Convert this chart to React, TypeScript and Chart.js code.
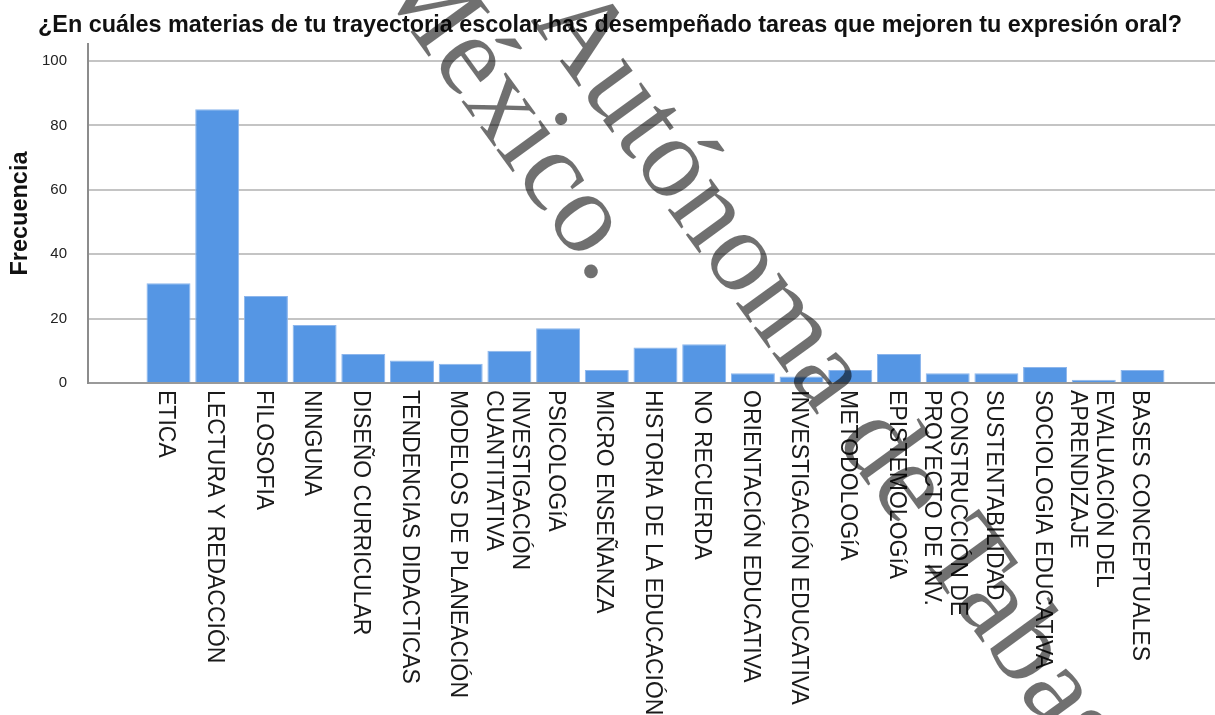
import React, { useEffect, useRef } from "react";
import { Chart, registerables } from "chart.js";

Chart.register(...registerables);

const chartTitle =
  "¿En cuáles materias de tu trayectoria escolar has desempeñado tareas que mejoren tu expresión oral?";
const yAxisTitle = "Frecuencia";

const categories = [
  "ETICA",
  "LECTURA Y REDACCIÓN",
  "FILOSOFIA",
  "NINGUNA",
  "DISEÑO CURRICULAR",
  "TENDENCIAS DIDACTICAS",
  "MODELOS DE PLANEACIÓN",
  "INVESTIGACIÓN\nCUANTITATIVA",
  "PSICOLOGíA",
  "MICRO ENSEÑANZA",
  "HISTORIA DE LA EDUCACIÓN",
  "NO RECUERDA",
  "ORIENTACIÓN EDUCATIVA",
  "INVESTIGACIÓN EDUCATIVA",
  "METODOLOGíA",
  "EPISTEMOLOGíA",
  "CONSTRUCCIÓN DE\nPROYECTO DE INV.",
  "SUSTENTABILIDAD",
  "SOCIOLOGIA EDUCATIVA",
  "EVALUACIÓN DEL\nAPRENDIZAJE",
  "BASES CONCEPTUALES",
];

const frequencies = [31, 85, 27, 18, 9, 7, 6, 10, 17, 4, 11, 12, 3, 2, 4, 9, 3, 3, 5, 1, 4];

const yTicks = [0, 20, 40, 60, 80, 100];

const watermarkLines = [
  { text: "Autónoma de Tabasco.", x: 530, y: 20 },
  { text: "México.", x: 370, y: -24 },
];

const W = 1215;
const H = 715;

const overlayPlugin = {
  id: "overlay",
  afterDraw(chart: any) {
    const ctx = chart.ctx as CanvasRenderingContext2D;
    const xs = chart.scales.x;
    const area = chart.chartArea;

    // title
    ctx.save();
    ctx.fillStyle = "#111";
    ctx.font = 'bold 23.4px "Liberation Sans", Arial, sans-serif';
    ctx.textAlign = "center";
    ctx.textBaseline = "alphabetic";
    ctx.fillText(chartTitle, 610, 32);
    ctx.restore();

    // y title
    ctx.save();
    ctx.fillStyle = "#111";
    ctx.font = 'bold 23.5px "Liberation Sans", Arial, sans-serif';
    ctx.translate(21, (area.top + area.bottom) / 2);
    ctx.rotate(-Math.PI / 2);
    ctx.textAlign = "center";
    ctx.textBaseline = "middle";
    ctx.fillText(yAxisTitle, 0, 0);
    ctx.restore();

    // x labels rotated clockwise
    ctx.save();
    ctx.fillStyle = "#1a1a1a";
    ctx.font = '23px "Liberation Sans", Arial, sans-serif';
    ctx.textAlign = "left";
    ctx.textBaseline = "middle";
    const lh = 26;
    categories.forEach((label, i) => {
      const px = xs.getPixelForValue(i) - 3;
      const lines = label.split("\n");
      ctx.save();
      ctx.translate(px, area.bottom + 7);
      ctx.rotate(Math.PI / 2);
      lines.forEach((ln, k) => {
        const off = (k - (lines.length - 1) / 2) * lh;
        ctx.fillText(ln, 0, off);
      });
      ctx.restore();
    });
    ctx.restore();

    // watermark
    ctx.save();
    ctx.fillStyle = "rgba(0,0,0,0.56)";
    ctx.font = '116px "Liberation Serif", "Times New Roman", serif';
    ctx.textAlign = "left";
    ctx.textBaseline = "alphabetic";
    watermarkLines.forEach((w) => {
      ctx.save();
      ctx.translate(w.x, w.y);
      ctx.rotate((54 * Math.PI) / 180);
      ctx.fillText(w.text, 0, 0);
      ctx.restore();
    });
    ctx.restore();
  },
};

export default function App() {
  const ref = useRef<HTMLCanvasElement | null>(null);

  useEffect(() => {
    if (!ref.current) return;
    const chart = new Chart(ref.current, {
      type: "bar",
      data: {
        datasets: [
          {
            data: frequencies.map((v, i) => ({ x: i, y: v })),
            backgroundColor: "#5596E4",
            borderColor: "#8DB6EC",
            borderWidth: 1,
            categoryPercentage: 1,
            barPercentage: 0.903,
          },
        ],
      },
      options: {
        responsive: false,
        animation: false,
        devicePixelRatio: 1,
        layout: { padding: { top: 44, right: 0, left: 0, bottom: 0 } },
        plugins: {
          legend: { display: false },
          tooltip: { enabled: false },
          title: { display: false },
        },
        scales: {
          x: {
            type: "linear",
            offset: false,
            min: -1.653,
            max: 21.489,
            afterBuildTicks: (scale: any) => {
              scale.ticks = categories.map((_, i) => ({ value: i }));
            },
            afterFit: (scale: any) => {
              scale.height = H - 383;
            },
            grid: { display: false, drawTicks: false },
            border: { display: true, color: "#9a9a9a", width: 2 },
            ticks: { display: false },
          },
          y: {
            min: 0,
            max: 105.3,
            afterBuildTicks: (scale: any) => {
              scale.ticks = yTicks.map((v) => ({ value: v }));
            },
            afterFit: (scale: any) => {
              scale.width = 88;
            },
            grid: {
              color: (c: any) => (c.tick && c.tick.value === 0 ? "#9a9a9a" : "#c4c4c4"),
              lineWidth: 2,
              drawTicks: false,
            },
            border: { display: true, color: "#8c8c8c", width: 2 },
            ticks: {
              padding: 21,
              color: "#222",
              font: { size: 15, family: '"Liberation Sans", Arial, sans-serif' },
            },
          },
        },
      },
      plugins: [overlayPlugin],
    } as any);
    return () => chart.destroy();
  }, []);

  return (
    <div style={{ position: "absolute", left: 0, top: 0, width: W, height: H, background: "#fff" }}>
      <canvas ref={ref} width={W} height={H} style={{ width: W, height: H, display: "block" }} />
    </div>
  );
}
